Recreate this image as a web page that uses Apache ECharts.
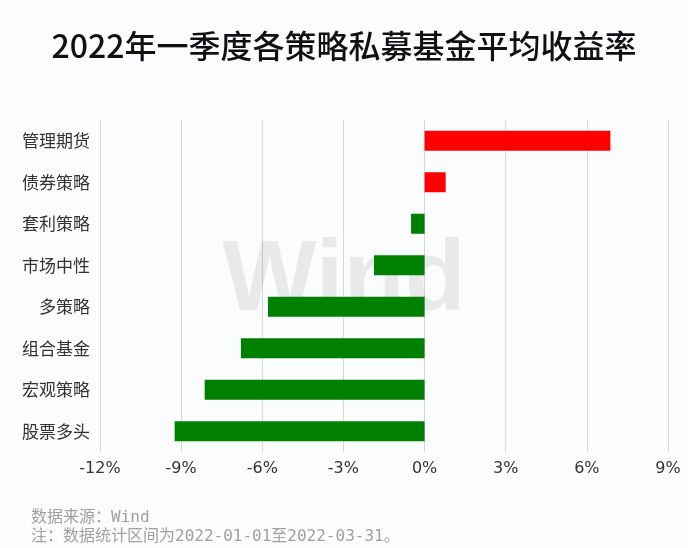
<!DOCTYPE html>
<html>
<head>
<meta charset="utf-8">
<script src="https://cdn.jsdelivr.net/npm/echarts@6/dist/echarts.min.js"></script>
<style>
  html, body { margin: 0; padding: 0; background: #fbfcfe; }
  #main { width: 688px; height: 548px; }
</style>
</head>
<body>
<div id="main"></div>
<script>
// Données du graphique (de haut en bas)
const strategies = ["管理期货", "债券策略", "套利策略", "市场中性", "多策略", "组合基金", "宏观策略", "股票多头"];
const returns = [6.87, 0.78, -0.50, -1.87, -5.79, -6.79, -8.13, -9.24];
const xTicks = [-12, -9, -6, -3, 0, 3, 6, 9];

const chart = echarts.init(document.getElementById("main"));

const option = {
  backgroundColor: "#fbfcfe",
  title: {
    text: "2022年一季度各策略私募基金平均收益率",
    left: "center",
    top: 25,
    textStyle: {
      fontSize: 32,
      fontWeight: 500,
      color: "#111",
      fontFamily: "Noto Sans CJK SC"
    }
  },
  grid: { left: 100, right: 20, top: 120, bottom: 96 },
  xAxis: {
    type: "value",
    min: xTicks[0],
    max: xTicks[xTicks.length - 1],
    interval: 3,
    axisLine: { show: false },
    axisTick: { show: false },
    axisLabel: {
      formatter: "{value}%",
      fontSize: 16,
      color: "#333",
      margin: 9,
      fontFamily: "DejaVu Sans"
    },
    splitLine: { lineStyle: { color: "#d6d6d6", width: 1 } }
  },
  yAxis: {
    type: "category",
    data: strategies,
    inverse: true,
    axisLine: { show: false },
    axisTick: { show: false },
    axisLabel: {
      fontSize: 17,
      color: "#333",
      margin: 10,
      fontFamily: "Noto Sans CJK SC"
    }
  },
  graphic: [
    {
      type: "text",
      left: "center",
      top: 232,
      z: 1,
      silent: true,
      style: {
        text: "Wind",
        fontSize: 100,
        fontWeight: "bold",
        fontFamily: "Liberation Sans",
        fill: "rgba(0,0,0,0.075)"
      }
    },
    {
      type: "text",
      left: 31,
      top: 508,
      style: {
        text: "数据来源：Wind\n注：数据统计区间为2022-01-01至2022-03-31。",
        fontSize: 16,
        lineHeight: 19,
        fill: "#a0a0a0",
        fontFamily: "DejaVu Sans Mono, Noto Sans CJK SC"
      }
    }
  ],
  series: [
    {
      type: "bar",
      barWidth: 20,
      data: returns.map((v) => ({
        value: v,
        itemStyle: { color: v >= 0 ? "#ff0000" : "#008000" }
      }))
    }
  ]
};

chart.setOption(option);
</script>
</body>
</html>
